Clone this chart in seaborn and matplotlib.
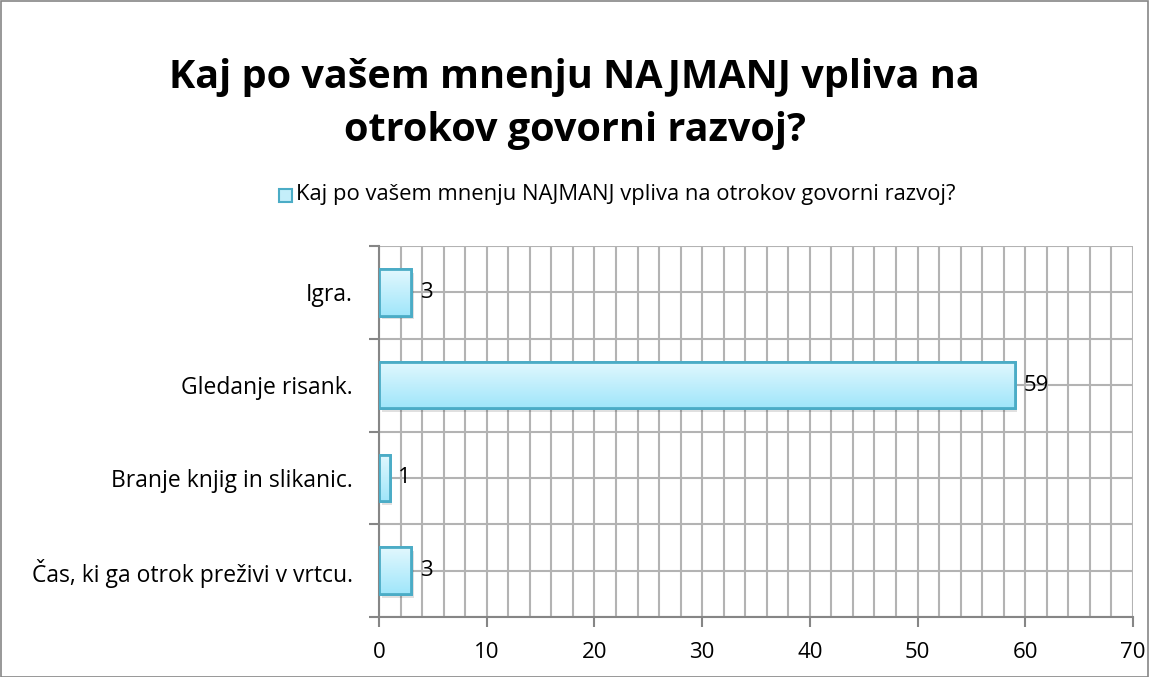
import matplotlib
matplotlib.use("Agg")
import matplotlib.pyplot as plt
import seaborn as sns
import numpy as np
import pandas as pd
from matplotlib.patches import Rectangle
from matplotlib.ticker import MultipleLocator
from matplotlib.colors import LinearSegmentedColormap

categories = ["Igra.", "Gledanje risank.", "Branje knjig in slikanic.", "Čas, ki ga otrok preživi v vrtcu."]
values = [3, 59, 1, 3]
series_name = "Kaj po vašem mnenju NAJMANJ vpliva na otrokov govorni razvoj?"
title = "Kaj po vašem mnenju NAJMANJ vpliva na\notrokov govorni razvoj?"
xticks = [0, 10, 20, 30, 40, 50, 60, 70]

sns.set_theme(style="white")
plt.rcParams['font.family'] = ['Open Sans', 'DejaVu Sans']

df = pd.DataFrame({"cat": categories, "val": values})

fig = plt.figure(figsize=(11.49, 6.77), dpi=100)
ax = fig.add_axes([379/1149, 1-617/677, (1133-379)/1149, (617-246)/677])

edge = "#4BACC6"
sns.barplot(data=df, x="val", y="cat", orient="h", ax=ax, color="#C4EEFA",
            edgecolor=edge, linewidth=2, width=0.5, zorder=3)

grad = np.linspace(0, 1, 100).reshape(-1, 1)
cmap = LinearSegmentedColormap.from_list("g", ["#E2F8FE", "#A0E6FA"])
for p in list(ax.patches):
    x0, y0 = p.get_x(), p.get_y()
    w, h = p.get_width(), p.get_height()
    im = ax.imshow(grad, extent=[x0, x0 + w, y0 + h, y0], aspect="auto", cmap=cmap,
                   zorder=3.5, interpolation="bilinear")
    im.set_clip_path(p)
    sh = Rectangle((x0 + 0.25, y0 + 0.04), w, h, facecolor="#000000", alpha=0.12,
                   edgecolor="none", zorder=2.5)
    ax.add_patch(sh)
    ax.add_patch(Rectangle((x0, y0), w, h, facecolor="none", edgecolor=edge, linewidth=2, zorder=4))

ax.set_xlim(0, 70)
ax.set_ylim(3.5, -0.5)
ax.set_xticks(xticks, [str(t) for t in xticks])
ax.xaxis.set_minor_locator(MultipleLocator(2))
ax.set_yticks([-0.5, 0.5, 1.5, 2.5, 3.5], [""] * 5)
ax.set_yticks([0, 1, 2, 3], categories, minor=True)
ax.grid(True, which="both", axis="both", color="#B3B3B3", linewidth=1.5, zorder=0)
ax.set_axisbelow(True)
ax.set_xlabel("")
ax.set_ylabel("")

for s in ["top", "right"]:
    ax.spines[s].set_visible(False)
for s in ["left", "bottom"]:
    ax.spines[s].set_color("#868686")
    ax.spines[s].set_linewidth(1.5)

ax.tick_params(axis="x", which="major", bottom=True, length=7, width=1.5, color="#868686",
               labelsize=16, pad=11, labelcolor="black")
ax.tick_params(axis="x", which="minor", bottom=False)
ax.tick_params(axis="y", which="major", left=True, length=7, width=1.5, color="#868686")
ax.tick_params(axis="y", which="minor", left=False, labelsize=16.5, pad=15, labelcolor="black")

for i, v in enumerate(values):
    ax.text(v + 0.8, i, str(v), va="center", ha="left", fontsize=16, color="black", zorder=5)

fig.text(0.5, 1 - 104/677, title, ha="center", va="center", fontsize=28.5, fontweight="bold",
         color="black", linespacing=1.45)

fig.patches.append(Rectangle((279/1149, 1 - 202/677), 13/1149, 13/677, transform=fig.transFigure,
                             facecolor="#C4EEFA", edgecolor=edge, linewidth=1.5))
fig.text(296/1149, 1 - 195/677, series_name, ha="left", va="center", fontsize=15.8, color="black")

fig.patches.append(Rectangle((0.5/1149, 0.5/677), 1 - 1.5/1149, 1 - 1.5/677, transform=fig.transFigure,
                             facecolor="none", edgecolor="#868686", linewidth=1.2))

fig.savefig("out.png", dpi=100)
